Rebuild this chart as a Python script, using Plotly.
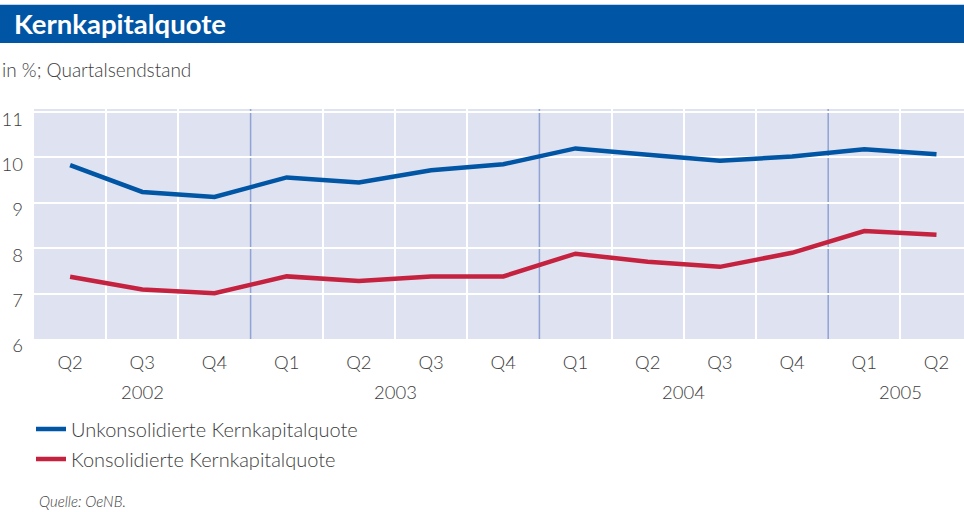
import plotly.graph_objects as go

quarters = ["Q2", "Q3", "Q4", "Q1", "Q2", "Q3", "Q4", "Q1", "Q2", "Q3", "Q4", "Q1", "Q2"]
years = ["2002", "2003", "2004", "2005"]
year_centers = [1, 4.5, 8.5, 11.5]
year_bounds = [2.5, 6.5, 10.5]
unkonsolidiert = [9.83, 9.24, 9.13, 9.56, 9.45, 9.72, 9.85, 10.2, 10.06, 9.93, 10.02, 10.18, 10.07]
konsolidiert = [7.37, 7.09, 7.01, 7.38, 7.28, 7.38, 7.38, 7.88, 7.70, 7.59, 7.90, 8.38, 8.30]
names = ["Unkonsolidierte Kernkapitalquote", "Konsolidierte Kernkapitalquote"]

W, H = 964, 512
L, T = 34, 109
B = 512 - 338.6
PW, PH = W - L, H - T - B
FONT = "Lato, 'Open Sans', sans-serif"
TXT = "#3d3d3d"
BLUE = "#0055A4"
RED = "#C4223F"

def px(x):
    return (x - L) / PW

def py(y):
    return (T + PH - y) / PH

xs = list(range(len(quarters)))
fig = go.Figure()
fig.add_trace(go.Scatter(x=xs, y=unkonsolidiert, name=names[0], mode="lines", legendgroup="a",
                         line=dict(color=BLUE, width=4.5)))
fig.add_trace(go.Scatter(x=xs, y=konsolidiert, name=names[1], mode="lines", legendgroup="b",
                         line=dict(color=RED, width=4.5)))

shapes = []
shapes.append(dict(type="rect", xref="paper", yref="paper", x0=px(0), x1=px(W), y0=py(43), y1=py(5),
                   fillcolor=BLUE, line=dict(width=0), layer="above"))
for b in year_bounds:
    shapes.append(dict(type="line", xref="x", yref="paper", x0=b, x1=b, y0=0, y1=1,
                       line=dict(color="#8FA3D4", width=1.5), layer="below"))
minor_vals = [i + 0.5 for i in range(12) if (i + 0.5) not in year_bounds]

annotations = [
    dict(text="<b>Kernkapitalquote</b>", xref="paper", yref="paper", x=px(12), y=py(24),
         xanchor="left", yanchor="middle", showarrow=False, font=dict(family=FONT, size=27.5, color="white")),
    dict(text="in %; Quartalsendstand", xref="paper", yref="paper", x=px(0), y=py(70),
         xanchor="left", yanchor="middle", showarrow=False,
         font=dict(family=FONT, size=19, color=TXT, weight=300)),
    dict(text="<i>Quelle: OeNB.</i>", xref="paper", yref="paper", x=px(37), y=py(500),
         xanchor="left", yanchor="middle", showarrow=False,
         font=dict(family=FONT, size=15, color=TXT, weight=300)),
]
for yr, c in zip(years, year_centers):
    annotations.append(dict(text=yr, xref="x", yref="paper", x=c, y=py(392), xanchor="center",
                            yanchor="middle", showarrow=False,
                            font=dict(family=FONT, size=18.5, color=TXT, weight=300)))

fig.update_layout(
    width=W, height=H,
    margin=dict(l=L, r=0, t=T, b=B, pad=0),
    paper_bgcolor="white", plot_bgcolor="#DFE2F0",
    font=dict(family=FONT, color=TXT),
    shapes=shapes, annotations=annotations,
    showlegend=True,
    legend=dict(x=px(31), y=py(409), xanchor="left", yanchor="top", orientation="v",
                font=dict(family=FONT, size=20, color=TXT, weight=300), bgcolor="rgba(0,0,0,0)",
                itemwidth=30, tracegroupgap=1),
    xaxis=dict(range=[-0.5, -0.5 + PW / 72.2], tickvals=xs, ticktext=quarters, showgrid=False,
               zeroline=False, showline=False, ticks="", ticklabelstandoff=10,
               tickfont=dict(family=FONT, size=18.5, color=TXT, weight=300),
               minor=dict(tickvals=minor_vals, showgrid=True, gridcolor="white",
                          gridwidth=2, ticks="")),
    yaxis=dict(range=[6, 6 + PH / 45.3], tickvals=[6, 7, 8, 9, 10, 11], showgrid=True,
               gridcolor="white", gridwidth=2, zeroline=False, showline=False, ticks="",
               ticklabelstandoff=10, ticklabelshift=7,
               tickfont=dict(family=FONT, size=18.5, color=TXT, weight=300)),
)
fig.write_html("out.html")
